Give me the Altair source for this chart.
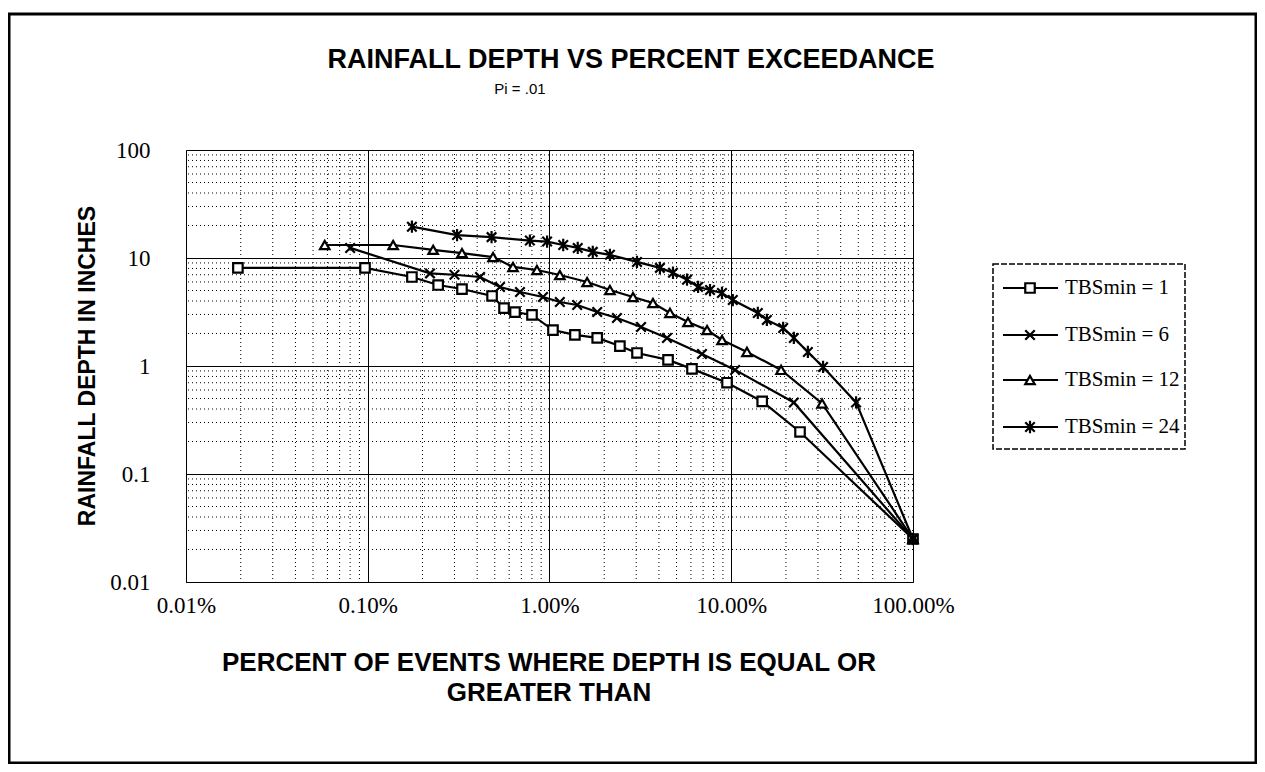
import altair as alt
import pandas as pd

series_names = ["TBSmin = 1", "TBSmin = 6", "TBSmin = 12", "TBSmin = 24"]

pct_1 = [0.0193, 0.0966, 0.175, 0.244, 0.33, 0.483, 0.562, 0.646, 0.801, 1.045, 1.38, 1.83, 2.44, 3.03, 4.49, 6.08, 9.48, 14.8, 23.9, 100]
depth_1 = [8.1, 8.1, 6.67, 5.62, 5.16, 4.45, 3.44, 3.16, 2.97, 2.15, 1.94, 1.82, 1.53, 1.32, 1.14, 0.94, 0.70, 0.47, 0.245, 0.025]

pct_6 = [0.080, 0.22, 0.30, 0.415, 0.534, 0.688, 0.921, 1.14, 1.42, 1.83, 2.35, 3.19, 4.43, 6.9, 10.5, 22.1, 100]
depth_6 = [12.4, 7.2, 7.0, 6.67, 5.39, 4.84, 4.35, 3.91, 3.67, 3.16, 2.78, 2.30, 1.82, 1.29, 0.92, 0.46, 0.025]

pct_12 = [0.058, 0.138, 0.229, 0.33, 0.489, 0.63, 0.853, 1.14, 1.61, 2.15, 2.88, 3.71, 4.6, 5.78, 7.36, 8.9, 12.2, 18.8, 31.6, 100]
depth_12 = [13.2, 13.2, 11.9, 11.1, 10.2, 8.26, 7.74, 6.96, 5.99, 5.06, 4.35, 3.83, 3.10, 2.55, 2.15, 1.74, 1.35, 0.92, 0.45, 0.025]

pct_24 = [0.175, 0.31, 0.48, 0.78, 0.97, 1.19, 1.43, 1.73, 2.15, 3.03, 4.05, 4.78, 5.71, 6.57, 7.64, 8.89, 10.2, 14.0, 15.7, 19.3, 22.1, 26.4, 32.0, 48.6, 100]
depth_24 = [19.5, 16.3, 15.6, 14.5, 14.2, 13.2, 12.4, 11.4, 10.7, 9.2, 8.1, 7.3, 6.3, 5.4, 5.05, 4.74, 4.08, 3.1, 2.67, 2.25, 1.82, 1.35, 0.98, 0.46, 0.025]

x_major = [0.01, 0.1, 1, 10, 100]
y_major = [0.01, 0.1, 1, 10, 100]
minor_steps = [2, 3, 4, 5, 6, 7, 8, 9]
decades = [0.01, 0.1, 1, 10]

rows = []
for name, xs, ys in zip(series_names, [pct_1, pct_6, pct_12, pct_24], [depth_1, depth_6, depth_12, depth_24]):
    for i, (xv, yv) in enumerate(zip(xs, ys)):
        rows.append({"series": name, "pct": xv, "depth": yv, "order": i})
df = pd.DataFrame(rows)

minor_vals = pd.DataFrame({"v": [m * d for d in decades for m in minor_steps]})

x_scale = alt.Scale(type="log", domain=[0.01, 100])
y_scale = alt.Scale(type="log", domain=[0.01, 100])

X_PATH = "M-1,-1L1,1M-1,1L1,-1"
STAR_PATH = "M-1,-1L1,1M-1,1L1,-1M0,-1.3L0,1.3"
shape_scale = alt.Scale(domain=series_names, range=["square", X_PATH, "triangle-up", STAR_PATH])

serif = "Liberation Serif"
sans = "Liberation Sans"

x_axis = alt.Axis(values=x_major, labelExpr="format(datum.value, '.2f') + '%'", title=None,
                  labelFont=serif, labelFontSize=23, labelColor="black", labelPadding=12,
                  ticks=False, domainColor="black", grid=True, gridColor="black",
                  gridWidth=1, gridOpacity=1, labelFlush=False)
y_axis = alt.Axis(values=y_major, labelExpr="datum.value < 1 ? format(datum.value, '.2~f') : format(datum.value, 'd')",
                  title=None, labelFont=serif, labelFontSize=23, labelColor="black", labelPadding=36,
                  ticks=False, domainColor="black", grid=True, gridColor="black",
                  gridWidth=1, gridOpacity=1, labelFlush=False)

minor_x = alt.Chart(minor_vals).mark_rule(color="black", strokeWidth=1, strokeDash=[1, 3]).encode(
    x=alt.X("v:Q", scale=x_scale, axis=x_axis)
)
minor_y = alt.Chart(minor_vals).mark_rule(color="black", strokeWidth=1, strokeDash=[1, 3]).encode(
    y=alt.Y("v:Q", scale=y_scale, axis=y_axis)
)

lines = alt.Chart(df).mark_line(color="black", strokeWidth=2.2).encode(
    x=alt.X("pct:Q", scale=x_scale, axis=x_axis),
    y=alt.Y("depth:Q", scale=y_scale, axis=y_axis),
    detail="series:N",
    order="order:Q",
)
points = alt.Chart(df).mark_point(filled=True, fill="white", stroke="black", strokeWidth=2.2, size=90, opacity=1).encode(
    x=alt.X("pct:Q", scale=x_scale, axis=x_axis),
    y=alt.Y("depth:Q", scale=y_scale, axis=y_axis),
    shape=alt.Shape("series:N", scale=shape_scale, legend=None),
)

one = pd.DataFrame({"k": [0]})

def label(text, x, y, size, font, weight="normal", angle=0, align="center"):
    return alt.Chart(one).mark_text(text=text, font=font, fontSize=size, fontWeight=weight,
                                    angle=angle, align=align, baseline="middle", color="black").encode(
        x=alt.value(x), y=alt.value(y))

# view origin at absolute (186,150)
title = label("RAINFALL DEPTH VS PERCENT EXCEEDANCE", 445, -90, 27, sans, "bold")
subtitle = label("Pi = .01", 334, -61, 15, sans)
xtitle1 = label("PERCENT OF EVENTS WHERE DEPTH IS EQUAL OR", 363, 513, 26, sans, "bold")
xtitle2 = label("GREATER THAN", 363, 543, 26, sans, "bold")
ytitle = label("RAINFALL DEPTH IN INCHES", -98, 216, 23, sans, "bold", angle=270)

border = alt.Chart(one).mark_rect(filled=False, stroke="black", strokeWidth=3).encode(
    x=alt.value(-177), x2=alt.value(1070), y=alt.value(-136), y2=alt.value(613)
)

legend_y = [138, 185, 230, 277]
legend_layers = []
legend_box = alt.Chart(one).mark_rect(filled=False, stroke="black", strokeWidth=1.5, strokeDash=[6, 2]).encode(
    x=alt.value(807), x2=alt.value(999), y=alt.value(114), y2=alt.value(299)
)
legend_layers.append(legend_box)
for name, ly in zip(series_names, legend_y):
    d = pd.DataFrame({"series": [name]})
    legend_layers.append(alt.Chart(d).mark_rule(color="black", strokeWidth=2.2).encode(
        x=alt.value(817), x2=alt.value(872), y=alt.value(ly)))
    legend_layers.append(alt.Chart(d).mark_point(filled=True, fill="white", stroke="black", strokeWidth=2.2, size=90, opacity=1).encode(
        x=alt.value(844), y=alt.value(ly), shape=alt.Shape("series:N", scale=shape_scale, legend=None)))
    legend_layers.append(alt.Chart(d).mark_text(font=serif, fontSize=21, align="left", baseline="middle", color="black").encode(
        x=alt.value(879), y=alt.value(ly), text="series:N"))

chart = alt.layer(
    minor_x, minor_y, lines, points, title, subtitle, xtitle1, xtitle2, ytitle, border, *legend_layers
).properties(
    width=727, height=432,
    autosize=alt.AutoSizeParams(type="none"),
    padding={"left": 178, "top": 142, "right": 344, "bottom": 182},
).configure_view(stroke=None)

chart.save("out.html", embed_options={"renderer": "svg", "actions": False})
